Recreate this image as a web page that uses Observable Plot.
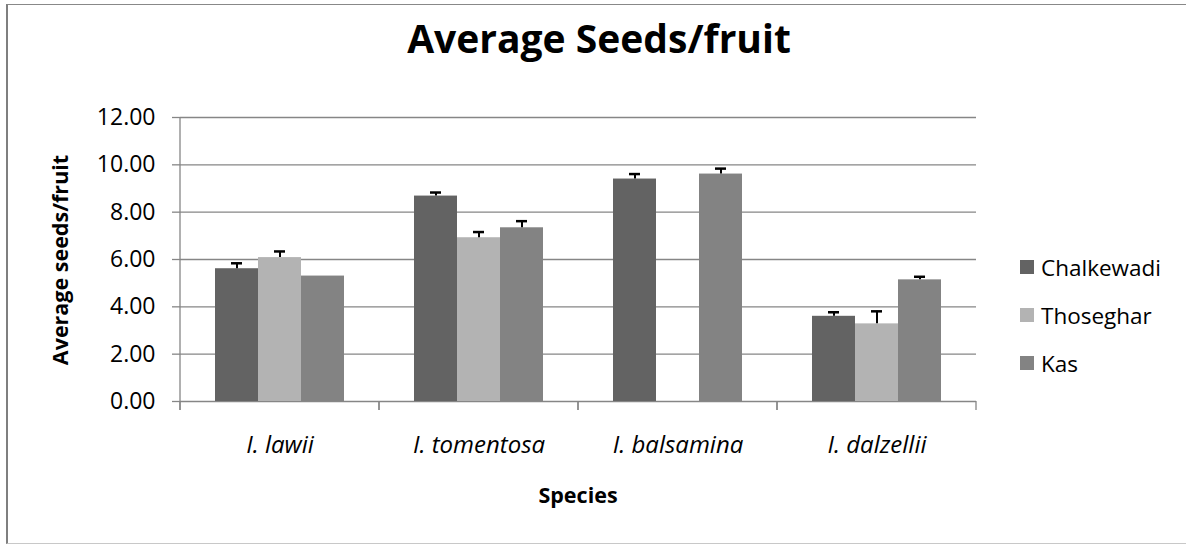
<!DOCTYPE html>
<html>
<head>
<meta charset="utf-8">
<script src="https://cdn.jsdelivr.net/npm/d3@7"></script>
<script src="https://cdn.jsdelivr.net/npm/@observablehq/plot@0.6"></script>
<style>
  html, body { margin: 0; padding: 0; background: #fff; overflow: hidden; }
  #wrap { position: relative; width: 1186px; height: 544px; overflow: hidden; font-family: "Open Sans", Lato, sans-serif; color: #000; }
  #border { position: absolute; left: 6px; top: 4px; width: 1200px; height: 538px; border-top: 1.5px solid #888; border-left: 2px solid #7f7f7f; border-bottom: 1px solid #c8c8c8; }
  #title { position: absolute; left: 0; width: 1198px; top: 16px; text-align: center; font-size: 39px; font-weight: bold; line-height: 44px; }
  #ylabel { position: absolute; left: 59px; top: 260px; transform: translate(-50%, -50%) rotate(-90deg); font-size: 21.5px; font-weight: bold; white-space: nowrap; }
  #xlabel { position: absolute; left: 0; width: 1156px; top: 482px; text-align: center; font-size: 21.5px; font-weight: bold; line-height: 26px; }
  #legend { position: absolute; left: 1020px; top: 243px; }
  .lg { display: flex; align-items: center; height: 48px; font-size: 22.5px; }
  .sw { width: 14px; height: 14px; margin-right: 7px; }
  #chart { position: absolute; left: 0; top: 0; }
</style>
</head>
<body>
<div id="wrap">
  <div id="border"></div>
  <div id="chart"></div>
  <div id="title"></div>
  <div id="ylabel"></div>
  <div id="xlabel"></div>
  <div id="legend"></div>
</div>
<script>
// ---- data ----
const titleText = "Average Seeds/fruit";
const yLabelText = "Average seeds/fruit";
const xLabelText = "Species";
const species = ["I. lawii", "I. tomentosa", "I. balsamina", "I. dalzellii"];
const sites = ["Chalkewadi", "Thoseghar", "Kas"];
const siteColors = ["#636363", "#b3b3b3", "#838383"];
const yTicks = [0, 2, 4, 6, 8, 10, 12];
// mean values per site (null = no data)
const chalkewadi = [5.61, 8.68, 9.40, 3.60];
const thoseghar  = [6.08, 6.92, null, 3.28];
const kas        = [5.30, 7.34, 9.61, 5.14];
// standard error (upper bar)
const chalkewadiErr = [0.23, 0.15, 0.21, 0.17];
const thosegharErr  = [0.26, 0.24, null, 0.53];
const kasErr        = [0.00, 0.28, 0.23, 0.13];

// ---- build table ----
const seriesVals = [chalkewadi, thoseghar, kas];
const seriesErr = [chalkewadiErr, thosegharErr, kasErr];
const rows = [];
sites.forEach((site, j) => {
  species.forEach((sp, i) => {
    const v = seriesVals[j][i];
    if (v == null) return;
    rows.push({species: sp, site, value: v, err: seriesErr[j][i] || 0});
  });
});
const errRows = rows.filter(d => d.err > 0);

const gray = "#868686";

// category boundary ticks and vertical axis line, drawn per facet from the facet frame
const axesLines = Plot.ruleX(species, {
  fx: d => d,
  x: null,
  render(index, scales, values, dims) {
    const g = d3.create("svg:g").attr("stroke", gray).attr("stroke-width", 1.3).attr("fill", "none");
    if (!index.length) return g.node();
    const y0 = dims.height - dims.marginBottom;
    const left = dims.marginLeft, right = dims.width - dims.marginRight;
    for (const x of [left, right]) {
      g.append("line").attr("x1", x).attr("x2", x).attr("y1", y0).attr("y2", y0 + 9);
    }
    if (index[0] === 0) {
      g.append("line").attr("x1", left).attr("x2", left).attr("y1", dims.marginTop).attr("y2", y0 + 9);
    }
    return g.node();
  }
});

const chart = Plot.plot({
  width: 1186,
  height: 544,
  marginLeft: 179,
  marginRight: 209,
  marginTop: 117,
  marginBottom: 143,
  style: {fontFamily: "'Open Sans', Lato, sans-serif", fontSize: "23px", color: "#000", background: "transparent", overflow: "visible"},
  fx: {domain: species, padding: 0},
  x: {domain: sites, paddingInner: 0, paddingOuter: 0.77, axis: null},
  y: {domain: [0, 12]},
  color: {domain: sites, range: siteColors},
  marks: [
    Plot.gridY(yTicks, {stroke: gray, strokeOpacity: 1, strokeWidth: 1.3}),
    Plot.axisY(yTicks, {tickSize: 8, tickPadding: 17, tickFormat: d3.format(".2f"), stroke: gray, strokeWidth: 1.3, fontSize: 23, label: null}),
    Plot.axisFx({anchor: "bottom", tickSize: 0, tickPadding: 34, fontStyle: "italic", fontSize: 24, label: null}),
    Plot.barY(rows, {fx: "species", x: "site", y: "value", fill: "site"}),
    Plot.ruleX(errRows, {fx: "species", x: "site", y1: "value", y2: d => d.value + d.err, stroke: "#000", strokeWidth: 2}),
    Plot.tickY(errRows, {fx: "species", x: "site", y: d => d.value + d.err, stroke: "#000", strokeWidth: 2.5, insetLeft: 16, insetRight: 16}),
    axesLines
  ]
});
document.getElementById("chart").append(chart);

document.getElementById("title").textContent = titleText;
document.getElementById("ylabel").textContent = yLabelText;
document.getElementById("xlabel").textContent = xLabelText;
const legend = document.getElementById("legend");
sites.forEach((s, j) => {
  const row = document.createElement("div");
  row.className = "lg";
  const sw = document.createElement("div");
  sw.className = "sw";
  sw.style.background = siteColors[j];
  const t = document.createElement("span");
  t.textContent = s;
  row.append(sw, t);
  legend.append(row);
});
</script>
</body>
</html>
